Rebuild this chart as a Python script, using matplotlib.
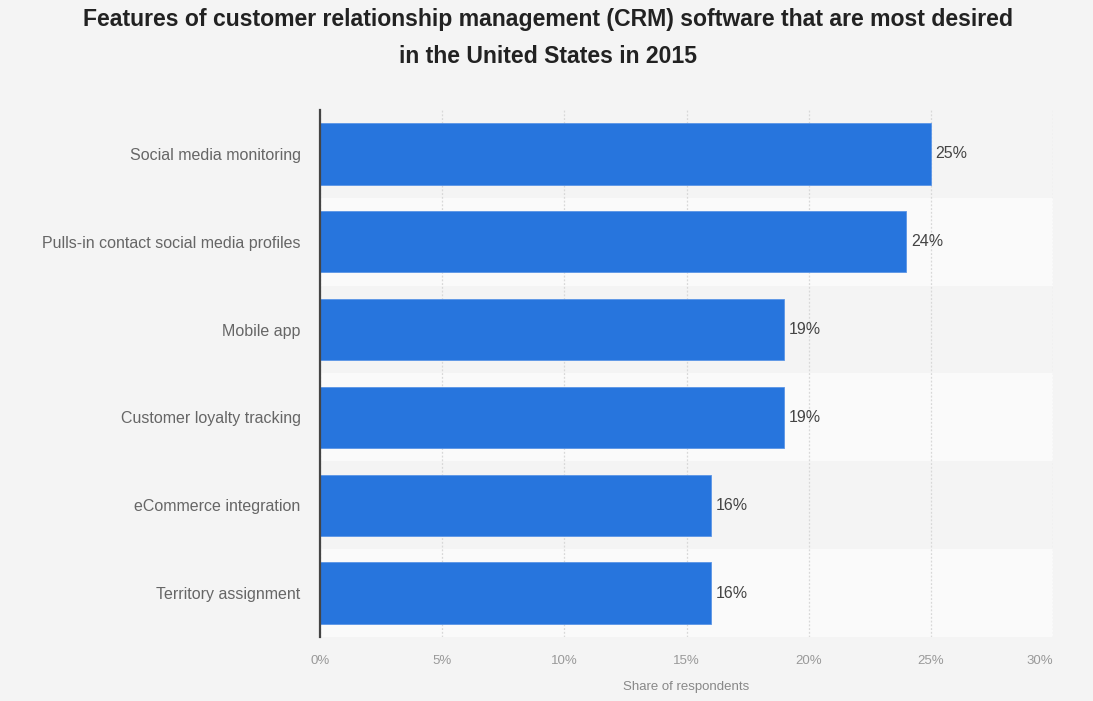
import matplotlib.pyplot as plt
import numpy as np

categories = ["Social media monitoring", "Pulls-in contact social media profiles",
              "Mobile app", "Customer loyalty tracking",
              "eCommerce integration", "Territory assignment"]
values = [25, 24, 19, 19, 16, 16]
xticks = [0, 5, 10, 15, 20, 25, 30]

plt.rcParams['font.family'] = ['Liberation Sans', 'DejaVu Sans']

fig = plt.figure(figsize=(10.93, 7.01), dpi=100, facecolor='#f4f4f4')
ax = fig.add_axes([0.2928, 0.0913, 0.6706, 0.7518])
ax.set_facecolor('#f4f4f4')

y = np.arange(len(categories))
# alternating row bands
for i in y:
    if i % 2 == 1:
        ax.axhspan(i - 0.5, i + 0.5, color='#fafafa', zorder=0, lw=0)

ax.barh(y, values, height=0.7, color='#2775dd', edgecolor='#5b95e6', linewidth=0.6, zorder=3)
for yi, v in zip(y, values):
    ax.text(v + 0.2, yi, f"{v}%", va='center', ha='left', fontsize=11.5, color='#444444', zorder=4)

ax.set_ylim(len(categories) - 0.5, -0.5)
ax.set_xlim(0, 30)
ax.set_yticks(y)
ax.set_yticklabels(categories, fontsize=11.5, color='#666666')
ax.set_xticks(xticks)
ax.set_xticklabels([f"{t}%" for t in xticks], fontsize=9.5, color='#999999')
ax.get_xticklabels()[-1].set_horizontalalignment('right')
ax.tick_params(axis='both', length=0)
ax.tick_params(axis='y', pad=14)
ax.tick_params(axis='x', pad=13)

ax.grid(axis='x', color='#d8d8d8', linestyle=(0, (1.5, 1.5)), linewidth=0.9, zorder=1)
ax.set_axisbelow(True)
for s in ['top', 'right', 'bottom']:
    ax.spines[s].set_visible(False)
ax.spines['left'].set_color('#444444')
ax.spines['left'].set_linewidth(1.6)
ax.spines['left'].set_zorder(5)

ax.set_xlabel("Share of respondents", fontsize=9.5, color='#888888', labelpad=10)

fig.text(0.5015, 0.988, "Features of customer relationship management (CRM) software that are most desired\nin the United States in 2015",
         ha='center', va='top', fontsize=16.6, fontweight='bold', color='#222222', linespacing=1.75)

fig.savefig('out.png', dpi=100, facecolor=fig.get_facecolor())
